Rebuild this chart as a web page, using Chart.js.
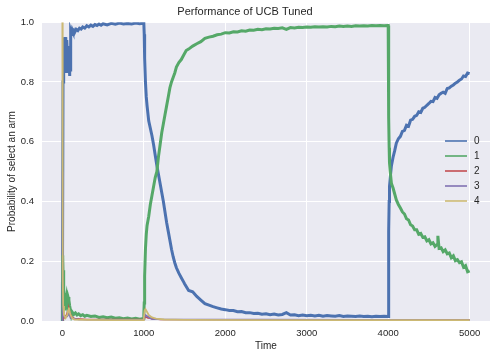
<!DOCTYPE html>
<html>
<head>
<meta charset="utf-8">
<script src="https://cdn.jsdelivr.net/npm/chart.js@4/dist/chart.umd.min.js"></script>
<style>
  body { margin: 0; background: #fff; }
  #wrap { width: 495px; height: 359px; }
</style>
</head>
<body>
<div id="wrap"><canvas id="chart" width="495" height="359"></canvas></div>
<script>
// arms and their colours (seaborn deep)
var armLabels = ['0', '1', '2', '3', '4'];
var armColors = ['#4C72B0', '#55A868', '#C44E52', '#8172B2', '#CCB974'];

// x ticks / y ticks
var timeTicks = [0, 1000, 2000, 3000, 4000, 5000];
var probTicks = [0, 0.2, 0.4, 0.6, 0.8, 1.0];

// arm 0 (blue)
var arm0Time = [0, 8, 12, 16, 20, 24, 28, 32, 36, 40, 44, 48, 52, 56, 60, 64, 68, 72, 76, 80, 84, 88, 92, 96,
  100, 104, 110, 120, 130, 140, 150, 170, 190, 210, 230, 250, 275, 300, 325, 350, 375, 400, 425, 450, 475,
  500, 550, 600, 650, 700, 750, 800, 850, 900, 950, 1000,
  1005, 1010, 1020, 1030, 1040, 1060, 1080, 1100, 1120, 1140, 1160, 1180, 1200, 1220, 1240, 1260, 1280,
  1300, 1320, 1340, 1360, 1380, 1400, 1430, 1460, 1490,
  1500, 1550, 1600, 1650, 1700, 1750, 1800, 1850, 1900, 1950, 2000, 2050, 2100, 2150, 2200, 2250, 2300,
  2350, 2400, 2450, 2500, 2550, 2600, 2650, 2700, 2750, 2800, 2850, 2900, 2950, 3000, 3050, 3100, 3150,
  3200, 3250, 3300, 3350, 3400, 3450, 3500, 3550, 3600, 3650, 3700, 3750, 3800, 3850, 3900, 3950, 3995,
  4000, 4004, 4008, 4012, 4016, 4025, 4040, 4060, 4080, 4100, 4125, 4150, 4175, 4200, 4225, 4250, 4275,
  4300, 4325, 4350, 4375, 4400, 4425, 4450, 4475, 4500, 4525, 4550, 4575, 4600, 4625, 4650, 4675, 4700,
  4725, 4750, 4775, 4800, 4825, 4850, 4875, 4900, 4925, 4950, 4975, 5000];
var arm0Prob = [0.00, 0.80, 0.86, 0.93, 0.95, 0.90, 0.84, 0.92, 0.95, 0.88, 0.83, 0.91, 0.86, 0.94, 0.90, 0.85, 0.92, 0.87, 0.83, 0.90, 0.86, 0.82, 0.88, 0.84,
  0.95, 0.97, 0.962, 0.975, 0.968, 0.972, 0.965, 0.976, 0.972, 0.98, 0.977, 0.984, 0.98, 0.988, 0.984, 0.99, 0.986, 0.992, 0.989, 0.994, 0.99,
  0.995, 0.991, 0.996, 0.993, 0.997, 0.994, 0.996, 0.994, 0.997, 0.995, 0.997,
  0.96, 0.88, 0.80, 0.75, 0.72, 0.67, 0.645, 0.62, 0.59, 0.555, 0.52, 0.49, 0.46, 0.43, 0.40, 0.365, 0.33,
  0.30, 0.27, 0.24, 0.215, 0.195, 0.178, 0.16, 0.145, 0.13,
  0.125, 0.102, 0.098, 0.082, 0.07, 0.058, 0.053, 0.048, 0.044, 0.04, 0.038, 0.035, 0.035, 0.031, 0.032, 0.028, 0.028,
  0.025, 0.026, 0.023, 0.024, 0.021, 0.023, 0.02, 0.022, 0.028, 0.02, 0.021, 0.018, 0.02, 0.018, 0.019, 0.017, 0.019,
  0.016, 0.018, 0.017, 0.016, 0.018, 0.015, 0.017, 0.016, 0.015, 0.017, 0.015, 0.016, 0.014, 0.016, 0.015, 0.016, 0.015,
  0.015, 0.15, 0.30, 0.40, 0.45, 0.48, 0.52, 0.548, 0.57, 0.595, 0.61, 0.618, 0.635, 0.638, 0.655, 0.652, 0.672,
  0.675, 0.685, 0.688, 0.70, 0.698, 0.712, 0.715, 0.722, 0.728, 0.735, 0.734, 0.748, 0.745, 0.757, 0.762, 0.766, 0.762,
  0.778, 0.78, 0.786, 0.79, 0.796, 0.80, 0.806, 0.81, 0.82, 0.818, 0.83, 0.828];

// arm 1 (green)
var arm1Time = [0, 4, 8, 12, 16, 20, 25, 30, 40, 50, 60, 70, 80, 90, 100, 110, 120, 140, 160, 180, 200, 225, 250,
  275, 300, 350, 400, 450, 500, 550, 600, 650, 700, 750, 800, 850, 900, 950, 995,
  1000, 1005, 1010, 1020, 1030, 1040, 1060, 1080, 1100, 1120, 1140, 1160, 1180, 1200, 1220, 1240, 1260, 1280,
  1300, 1320, 1340, 1360, 1380, 1400, 1430, 1460, 1490,
  1520, 1550, 1600, 1650, 1700, 1750, 1800, 1850, 1900, 1950, 2000, 2050, 2100, 2150, 2200, 2250, 2300,
  2350, 2400, 2450, 2500, 2550, 2600, 2650, 2700, 2750, 2800, 2850, 2900, 2950, 3000, 3050, 3100, 3150,
  3200, 3250, 3300, 3350, 3400, 3450, 3500, 3550, 3600, 3650, 3700, 3750, 3800, 3850, 3900, 3950, 3995,
  4000, 4004, 4008, 4012, 4016, 4025, 4040, 4060, 4080, 4100, 4125, 4150, 4175, 4200, 4225, 4250, 4275,
  4300, 4325, 4350, 4375, 4400, 4425, 4450, 4475, 4500, 4525, 4550, 4575, 4600, 4610, 4625, 4650, 4675, 4700,
  4725, 4750, 4775, 4800, 4825, 4850, 4875, 4900, 4925, 4950, 4975, 5000];
var arm1Prob = [0.00, 0.22, 0.17, 0.12, 0.08, 0.05, 0.04, 0.08, 0.07, 0.085, 0.06, 0.08, 0.07, 0.05, 0.035, 0.02, 0.03, 0.022, 0.027, 0.02, 0.024, 0.018, 0.021,
  0.016, 0.019, 0.015, 0.017, 0.012, 0.014, 0.011, 0.013, 0.009, 0.011, 0.008, 0.01, 0.007, 0.009, 0.006, 0.008,
  0.02, 0.06, 0.15, 0.24, 0.29, 0.32, 0.35, 0.39, 0.42, 0.45, 0.48, 0.50, 0.55, 0.59, 0.63, 0.66, 0.69, 0.72,
  0.75, 0.78, 0.80, 0.815, 0.83, 0.85, 0.865, 0.875, 0.89,
  0.905, 0.91, 0.92, 0.928, 0.935, 0.946, 0.95, 0.953, 0.958, 0.96, 0.965, 0.964, 0.968, 0.967, 0.971, 0.97, 0.974,
  0.973, 0.976, 0.975, 0.978, 0.977, 0.98, 0.979, 0.981, 0.976, 0.982, 0.981, 0.983, 0.982, 0.984, 0.983, 0.985, 0.984,
  0.985, 0.984, 0.986, 0.985, 0.987, 0.986, 0.987, 0.986, 0.988, 0.987, 0.988, 0.987, 0.989, 0.988, 0.989, 0.988, 0.989,
  0.989, 0.85, 0.68, 0.58, 0.53, 0.50, 0.46, 0.445, 0.425, 0.405, 0.39, 0.378, 0.365, 0.358, 0.342, 0.338, 0.322,
  0.318, 0.305, 0.305, 0.29, 0.293, 0.28, 0.282, 0.268, 0.272, 0.258, 0.262, 0.25, 0.256, 0.285, 0.243, 0.245, 0.232, 0.238,
  0.225, 0.228, 0.212, 0.218, 0.202, 0.205, 0.195, 0.198, 0.18, 0.185, 0.165, 0.168];

// arm 2 (red)
var arm2Time = [0, 5, 20, 50, 70, 80, 90, 110, 150, 300, 1000, 1020, 1050, 1200, 5000];
var arm2Prob = [0.00, 0.02, 0.01, 0.02, 0.035, 0.04, 0.03, 0.015, 0.008, 0.005, 0.005, 0.015, 0.01, 0.005, 0.004];

// arm 3 (purple)
var arm3Time = [0, 1, 3, 5, 20, 60, 80, 100, 200, 1000, 1020, 1100, 5000];
var arm3Prob = [0.00, 0.5, 0.1, 0.02, 0.015, 0.015, 0.025, 0.01, 0.005, 0.004, 0.02, 0.006, 0.003];

// arm 4 (yellow)
var arm4Time = [0, 2, 4, 6, 10, 20, 40, 60, 70, 80, 90, 100, 120, 150, 300, 600, 990, 1000, 1010, 1020, 1040,
  1060, 1100, 1150, 1250, 1500, 2500, 4000, 5000];
var arm4Prob = [1.0, 1.0, 0.5, 0.15, 0.05, 0.02, 0.01, 0.02, 0.035, 0.045, 0.03, 0.02, 0.01, 0.005, 0.004, 0.003, 0.003, 0.01, 0.035, 0.04, 0.03,
  0.02, 0.012, 0.008, 0.005, 0.004, 0.003, 0.003, 0.003];

var allTimes = [arm0Time, arm1Time, arm2Time, arm3Time, arm4Time];
var allProbs = [arm0Prob, arm1Prob, arm2Prob, arm3Prob, arm4Prob];
var lineWidths = [3, 3, 1.6, 1.6, 1.8];

var FONT = '"Liberation Sans", Arial, sans-serif';
var TEXT = '#262626';

var datasets = armLabels.map(function (lab, i) {
  return {
    label: lab,
    data: allTimes[i].map(function (t, k) { return { x: t, y: allProbs[i][k] }; }),
    borderColor: armColors[i],
    backgroundColor: armColors[i],
    borderWidth: lineWidths[i],
    pointRadius: 0,
    tension: 0,
    fill: false,
    order: 4 - i   // last arm on top, like matplotlib
  };
});

// grey plot background
var bgPlugin = {
  id: 'bg',
  beforeDraw: function (chart) {
    var a = chart.chartArea, c = chart.ctx;
    c.save();
    c.fillStyle = '#EAEAF2';
    c.fillRect(a.left, a.top, a.right - a.left, a.bottom - a.top);
    c.restore();
  }
};

// legend at the right, inside the axes
var legendPlugin = {
  id: 'armLegend',
  afterDraw: function (chart) {
    var c = chart.ctx;
    c.save();
    c.font = '10px ' + FONT;
    c.textBaseline = 'middle';
    chart.data.datasets.forEach(function (ds, i) {
      var y = 141 + i * 15;
      c.strokeStyle = ds.borderColor;
      c.lineWidth = 1.6;
      c.beginPath();
      c.moveTo(445, y);
      c.lineTo(467, y);
      c.stroke();
      c.fillStyle = TEXT;
      c.fillText(ds.label, 474, y);
    });
    c.restore();
  }
};

var ctx = document.getElementById('chart').getContext('2d');
new Chart(ctx, {
  type: 'line',
  data: { datasets: datasets },
  options: {
    responsive: false,
    animation: false,
    layout: { padding: { left: 0, right: 5, top: 0, bottom: 0 } },
    plugins: {
      legend: { display: false },
      tooltip: { enabled: false },
      title: {
        display: true,
        text: 'Performance of UCB Tuned',
        color: TEXT,
        font: { family: FONT, size: 11, weight: 'normal' },
        padding: { top: 5, bottom: 4 }
      }
    },
    scales: {
      x: {
        type: 'linear',
        min: -250,
        max: 5250,
        afterBuildTicks: function (s) { s.ticks = timeTicks.map(function (v) { return { value: v }; }); },
        afterFit: function (s) { s.height = 38; },
        grid: { color: '#ffffff', lineWidth: 1, drawTicks: false },
        border: { display: false },
        ticks: {
          color: TEXT, padding: 7, maxRotation: 0, font: { family: FONT, size: 9.5 },
          callback: function (v) { return String(v); }
        },
        title: { display: true, text: 'Time', color: TEXT, font: { family: FONT, size: 10 }, padding: { top: 0, bottom: 7 } }
      },
      y: {
        min: 0,
        max: 1,
        afterBuildTicks: function (s) { s.ticks = probTicks.map(function (v) { return { value: v }; }); },
        afterFit: function (s) { s.width = 42; },
        grid: { color: '#ffffff', lineWidth: 1, drawTicks: false },
        border: { display: false },
        ticks: {
          color: TEXT, padding: 8, font: { family: FONT, size: 9.5 },
          callback: function (v) { return v.toFixed(1); }
        },
        title: { display: true, text: 'Probability of select an arm', color: TEXT, font: { family: FONT, size: 10 }, padding: { top: 6, bottom: 0 } }
      }
    }
  },
  plugins: [bgPlugin, legendPlugin]
});
</script>
</body>
</html>
